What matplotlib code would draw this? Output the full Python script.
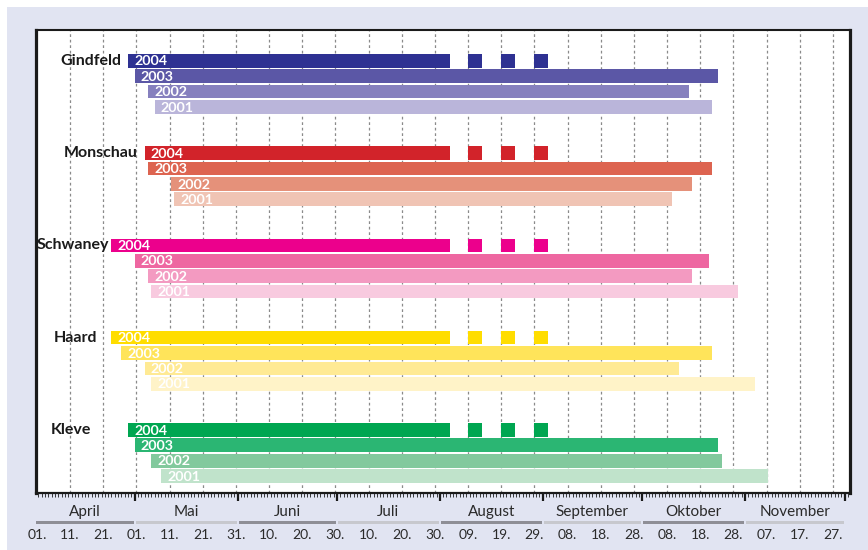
import datetime as dt
import matplotlib
matplotlib.use("Agg")
import matplotlib.pyplot as plt
from matplotlib.patches import Rectangle
from matplotlib import transforms
from matplotlib.ticker import FixedLocator, NullFormatter

plt.rcParams["font.family"] = ["Lato", "DejaVu Sans"]

# ---- data -------------------------------------------------------------
ORIGIN = dt.date(2004, 4, 1)          # left end of the time axis
AXIS_END = dt.date(2004, 12, 1)

stations = ["Gindfeld", "Monschau", "Schwaney", "Haard", "Kleve"]
years = ["2004", "2003", "2002", "2001"]

# first and last day (MM-DD) of each season, rows ordered 2004, 2003, 2002, 2001
gindfeld = [("04-29", "08-03"), ("05-01", "10-23"), ("05-05", "10-14"), ("05-07", "10-21")]
monschau = [("05-04", "08-03"), ("05-05", "10-21"), ("05-12", "10-15"), ("05-13", "10-09")]
schwaney = [("04-24", "08-03"), ("05-01", "10-20"), ("05-05", "10-15"), ("05-06", "10-29")]
haard    = [("04-24", "08-03"), ("04-27", "10-21"), ("05-04", "10-11"), ("05-06", "11-03")]
kleve    = [("04-29", "08-03"), ("05-01", "10-23"), ("05-06", "10-24"), ("05-09", "11-07")]
periods = [gindfeld, monschau, schwaney, haard, kleve]

# single later sampling dates in 2004
samples_2004 = ["08-09", "08-19", "08-29"]

month_names = ["April", "Mai", "Juni", "Juli", "August", "September", "Oktober", "November"]

palettes = [
    ["#2E3192", "#5B57A6", "#8680BE", "#BAB5DA"],
    ["#D2232A", "#DD6450", "#E5917A", "#F0C4B4"],
    ["#EC008C", "#EE67A1", "#F39AC1", "#F8CADF"],
    ["#FFDD00", "#FFE45A", "#FFEA94", "#FFF3C8"],
    ["#00A651", "#2BB673", "#82C99D", "#C0E3CB"],
]


def day(md):
    m, d = (int(v) for v in md.split("-"))
    return (dt.date(ORIGIN.year, m, d) - ORIGIN).days


# ---- figure -----------------------------------------------------------
W, H = 868, 550
fig = plt.figure(figsize=(W / 100, H / 100), dpi=100, facecolor="white")
fig.patches.append(Rectangle((7 / W, 0), 1, 1 - 7 / H, transform=fig.transFigure,
                             facecolor="#E1E4F2", edgecolor="none", zorder=-10))

x0, x1 = 35.5, 849.5
y_top, y_bot = 30, 493
ax = fig.add_axes([x0 / W, 1 - y_bot / H, (x1 - x0) / W, (y_bot - y_top) / H])
ax.set_facecolor("white")

n_days = (AXIS_END - ORIGIN).days
ax.set_xlim(-0.4, n_days + 1)
ax.set_ylim(28.1, -2.0)

# dashed 10-day grid
for k in range(1, 25):
    ax.axvline(10 * k, color="#8A8A8A", lw=0.9, ls=(0, (2.2, 2.2)), zorder=0)

BAR_H = 0.89
for g, (name, rows, cols) in enumerate(zip(stations, periods, palettes)):
    for k, ((s, e), yr, c) in enumerate(zip(rows, years, cols)):
        y = 6 * g + k
        start, end = day(s), day(e)
        ax.barh(y, end - start + 1, left=start - 0.5, height=BAR_H, color=c,
                edgecolor="none", zorder=2)
        ax.annotate(yr, (start - 0.5, y), xytext=(4.5, -0.5), textcoords="offset points",
                    ha="left", va="center", color="white", fontsize=10.3,
                    fontweight="bold", zorder=3)
        if k == 0:
            for sd in samples_2004:
                ax.barh(y, 4.3, left=day(sd) - 0.1, height=BAR_H, color=c,
                        edgecolor="none", zorder=2)

# station names
name_right = [25.4, 30.5, 21.8, 18.1, 16.3]
for g, (name, xr) in enumerate(zip(stations, name_right)):
    ax.text(xr, 6 * g, name, ha="right", va="center", fontsize=11.5,
            fontweight="bold", color="#1A1A1A")

# frame
for side in ("left", "right"):
    ax.spines[side].set_linewidth(2.3)
ax.spines["top"].set_linewidth(1.5)
ax.spines["bottom"].set_linewidth(1.6)
for sp in ax.spines.values():
    sp.set_color("#1A1A1A")

# month boundaries (major) and daily ticks (minor)
month_starts = []
d = ORIGIN
while d <= AXIS_END:
    month_starts.append((d - ORIGIN).days)
    d = dt.date(d.year + (d.month // 12), d.month % 12 + 1, 1)
ax.xaxis.set_major_locator(FixedLocator([m - 0.5 for m in month_starts]))
ax.xaxis.set_minor_locator(FixedLocator([i - 0.5 for i in range(n_days + 2)]))
ax.xaxis.set_major_formatter(NullFormatter())
ax.tick_params(axis="x", which="major", direction="out", length=5.5, width=1.6,
               color="#1A1A1A", top=False)
ax.tick_params(axis="x", which="minor", direction="out", length=3, width=0.6,
               color="#1A1A1A", top=False)
ax.set_yticks([])

# month names, alternating grey bands and day labels below the axis
trans = transforms.blended_transform_factory(ax.transData, fig.transFigure)
for i, name in enumerate(month_names):
    a, b = month_starts[i] - 0.5, month_starts[i + 1] - 0.5
    ax.text((a + b) / 2, 1 - 512 / H, name, transform=trans, ha="center",
            va="center", fontsize=11, color="#2A2A2A", clip_on=False)
    band = "#8E8E96" if i % 2 == 0 else "#C7C8CE"
    ax.add_patch(Rectangle((a + 0.3, 1 - 523.5 / H), b - a - 0.6, 3 / H,
                           transform=trans, facecolor=band, edgecolor="none",
                           clip_on=False))

for k in range(25):
    d = ORIGIN + dt.timedelta(days=10 * k)
    ax.text(10 * k, 1 - 535 / H, d.strftime("%d."), transform=trans, ha="center",
            va="center", fontsize=10, color="#2A2A2A", clip_on=False)

fig.savefig("out.png", dpi=100, facecolor=fig.get_facecolor())
